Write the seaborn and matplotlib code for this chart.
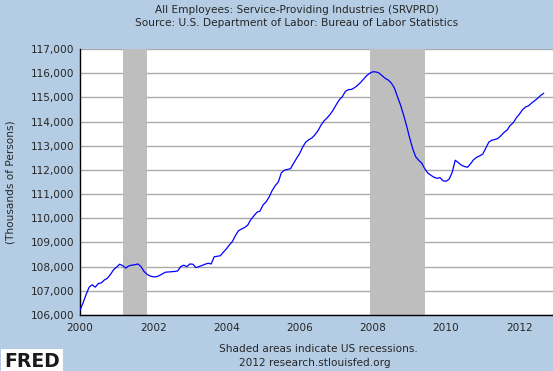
import pandas as pd
import matplotlib
matplotlib.use("Agg")
import matplotlib.pyplot as plt
import matplotlib.ticker as mticker
import seaborn as sns

# monthly values, Jan 2000 - Sep 2012 (thousands of persons)
vals_2000 = [106200, 106500, 106850, 107150, 107250, 107150, 107300, 107330, 107450, 107520, 107680, 107870]
vals_2001 = [107980, 108100, 108040, 107940, 108030, 108060, 108080, 108110, 108000, 107800, 107680, 107610]
vals_2002 = [107580, 107580, 107630, 107700, 107770, 107780, 107790, 107800, 107820, 108000, 108060, 108000]
vals_2003 = [108110, 108100, 107960, 108000, 108050, 108100, 108140, 108110, 108410, 108430, 108450, 108600]
vals_2004 = [108740, 108900, 109050, 109300, 109490, 109560, 109620, 109720, 109950, 110100, 110250, 110300]
vals_2005 = [110550, 110680, 110880, 111150, 111350, 111500, 111880, 111990, 112020, 112050, 112270, 112480]
vals_2006 = [112680, 112950, 113150, 113250, 113320, 113450, 113620, 113850, 114030, 114150, 114300, 114480]
vals_2007 = [114700, 114900, 115030, 115250, 115320, 115330, 115400, 115500, 115620, 115760, 115900, 116000]
vals_2008 = [116060, 116050, 116010, 115900, 115790, 115720, 115600, 115400, 115050, 114700, 114300, 113850]
vals_2009 = [113350, 112900, 112550, 112400, 112280, 112050, 111870, 111780, 111700, 111650, 111680, 111550]
vals_2010 = [111530, 111620, 111900, 112400, 112300, 112200, 112140, 112110, 112250, 112420, 112520, 112580]
vals_2011 = [112650, 112900, 113150, 113230, 113260, 113300, 113420, 113550, 113650, 113840, 113950, 114150]
vals_2012 = [114300, 114480, 114600, 114650, 114760, 114860, 114960, 115080, 115170]

recessions = [(2001 + 2 / 12, 2001 + 10 / 12), (2007 + 11 / 12, 2009 + 5 / 12)]
year_ticks = [2000, 2002, 2004, 2006, 2008, 2010, 2012]
y_ticks = list(range(106000, 117001, 1000))

values = (vals_2000 + vals_2001 + vals_2002 + vals_2003 + vals_2004 + vals_2005 + vals_2006
          + vals_2007 + vals_2008 + vals_2009 + vals_2010 + vals_2011 + vals_2012)
df = pd.DataFrame({"date": [2000 + i / 12 for i in range(len(values))], "value": values})

sns.set_style("white")
plt.rcParams["font.family"] = ["DejaVu Sans"]
bg = "#b4cde4"
fs = 7.6

fig = plt.figure(figsize=(5.53, 3.71), dpi=100, facecolor=bg)
ax = fig.add_axes([80 / 553, 56 / 371, 473 / 553, 266 / 371])
ax.set_facecolor("white")

for start, end in recessions:
    ax.axvspan(start, end, color="#bebebe", lw=0, zorder=1)

sns.lineplot(data=df, x="date", y="value", color="#0000ff", lw=0.9, ax=ax, zorder=3)

ax.set_xlim(2000, 2012.92)
ax.set_ylim(106000, 117000)
ax.set_xticks(year_ticks)
ax.set_yticks(y_ticks)
ax.yaxis.set_major_formatter(mticker.FuncFormatter(lambda v, p: f"{int(v):,}"))
ax.grid(axis="y", color="#aaaaaa", lw=1, zorder=0)
ax.set_axisbelow(True)
ax.tick_params(direction="in", length=4, width=1, color="black", labelsize=fs, pad=4)
ax.tick_params(axis="x", pad=6)
for side in ["top", "right"]:
    ax.spines[side].set_visible(False)
for side in ["left", "bottom"]:
    ax.spines[side].set_color("black")
    ax.spines[side].set_linewidth(1)

ax.set_xlabel("")
ax.set_ylabel("(Thousands of Persons)", fontsize=fs)
ax.yaxis.set_label_coords(-64 / 473, 0.5)

fig.text(297 / 553, 1 - 10 / 371, "All Employees: Service-Providing Industries (SRVPRD)",
         ha="center", va="center", fontsize=fs)
fig.text(297 / 553, 1 - 23.5 / 371, "Source: U.S. Department of Labor: Bureau of Labor Statistics",
         ha="center", va="center", fontsize=fs)
fig.text(318 / 553, 1 - 349 / 371, "Shaded areas indicate US recessions.",
         ha="center", va="center", fontsize=fs)
fig.text(315 / 553, 1 - 363 / 371, "2012 research.stlouisfed.org",
         ha="center", va="center", fontsize=fs)
fig.text(4 / 553, 1 - 361.5 / 371, "FRED", ha="left", va="center", fontsize=13.5,
         fontweight="bold", color="#1a1a1a",
         bbox=dict(facecolor="white", edgecolor="none", pad=2))

fig.savefig("out.png", dpi=100, facecolor=bg)
